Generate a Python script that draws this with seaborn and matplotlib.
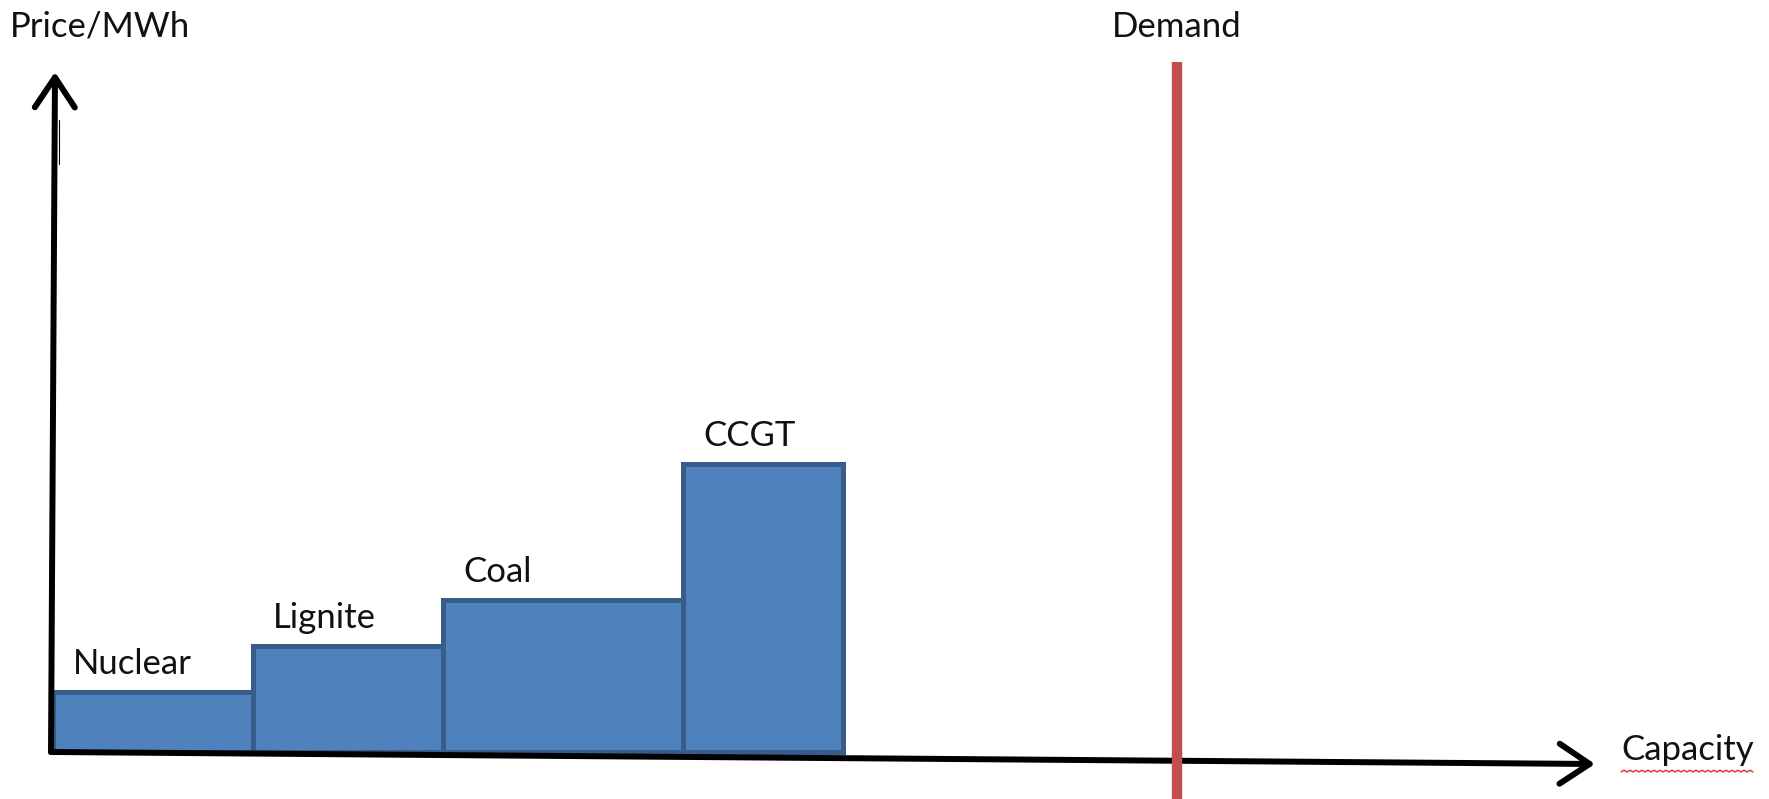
import numpy as np
import pandas as pd
import matplotlib
matplotlib.use('Agg')
import matplotlib.pyplot as plt
import seaborn as sns

# merit order: capacity block (GW) and price per MWh
plants = ['Nuclear', 'Lignite', 'Coal', 'CCGT']
capacity = [10, 9.5, 12, 8]
price = [15, 26.5, 38, 72]
demand = 56.2

sns.set_theme(style='white')
plt.rcParams['font.family'] = ['Lato', 'DejaVu Sans']

edges = np.concatenate([[0], np.cumsum(capacity)])
df = pd.DataFrame({'plant': plants,
                   'mid': (edges[:-1] + edges[1:]) / 2,
                   'price': price})

fig = plt.figure(figsize=(17.69, 7.99), dpi=100)
ax = fig.add_axes([0, 0, 1, 1])

sns.histplot(data=df, x='mid', weights='price', bins=edges.tolist(),
             stat='count', color='#4F81BD', edgecolor='#385D8A',
             linewidth=3.6, alpha=1, ax=ax)

ax.set_xlim(-2.65, 85.8)
ax.set_ylim(-11.75, 188)
ax.set_axis_off()

# demand line
ax.vlines(demand, -11.75, 172.5, color='#C0504D', lw=7.5, zorder=3)

# axes with arrow heads
arrow = dict(arrowstyle='->,head_length=0.9,head_width=0.6', lw=4.3,
             color='black', mutation_scale=24, shrinkA=0, shrinkB=0)
ax.annotate('', xy=(0.1, 170), xytext=(-0.1, 0), arrowprops=arrow, zorder=4)
ax.annotate('', xy=(77.1, -3), xytext=(-0.1, 0), arrowprops=arrow, zorder=2)
ax.plot([0.3, 0.3], [147, 158], color='black', lw=0.8)

# labels
fs = 25
for name, left, p in zip(plants, edges[:-1], price):
    ax.text(left + 1.0, p + 3, name, fontsize=fs, ha='left', va='bottom',
            color='#111111')

ax.text(-2.15, 181.25, 'Price/MWh', fontsize=fs, ha='left', va='center',
        color='#111111')
ax.text(demand, 181.25, 'Demand', fontsize=fs, ha='center', va='center',
        color='#111111')
ax.text(78.4, 0.5, 'Capacity', fontsize=fs, ha='left', va='center',
        color='#111111')

# spell-check squiggle under "Capacity"
sq_x = np.linspace(78.4, 85.0, 45)
sq_y = -5 + 0.45 * (np.arange(45) % 2)
ax.plot(sq_x, sq_y, color='#E03030', lw=1)

fig.savefig('out.png', dpi=100)
